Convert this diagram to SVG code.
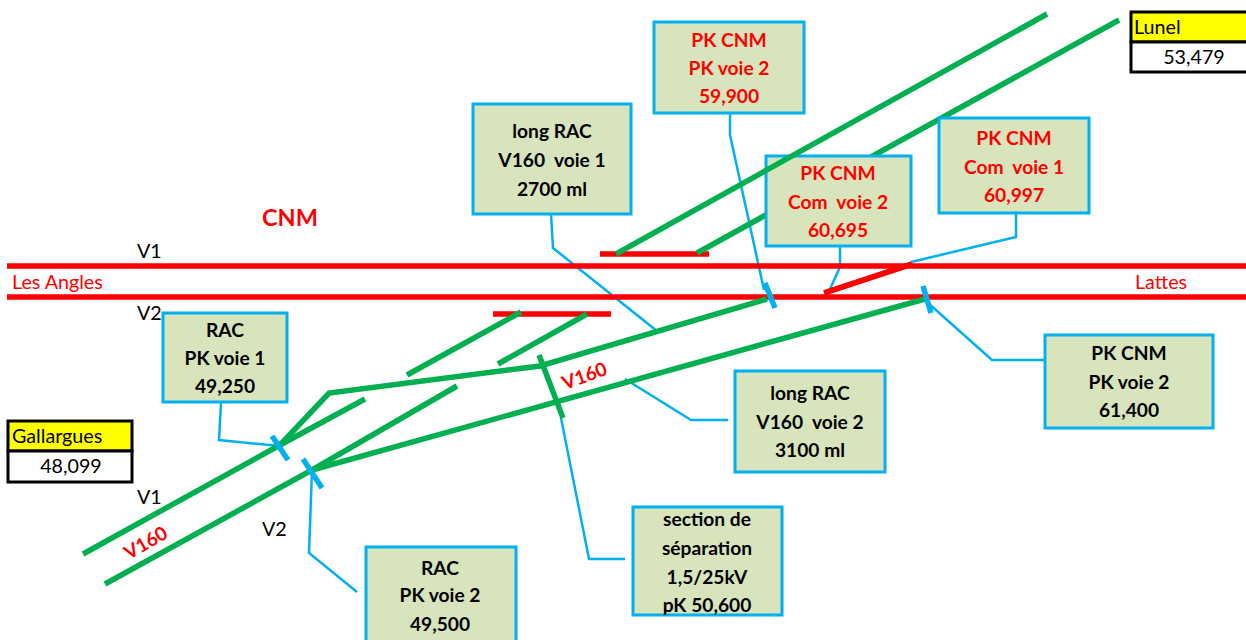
<svg xmlns="http://www.w3.org/2000/svg" width="1246" height="640" viewBox="0 0 1246 640">
<style>
text{font-family:Lato,Carlito,"Open Sans",sans-serif;font-size:19.7px;fill:#000;white-space:pre}
.b{font-weight:700;font-size:19.2px;text-anchor:middle}
.r{fill:#f00}
.v{font-size:19px;text-anchor:start}
.track{fill:none;stroke:#00b050;stroke-width:5.5}
.rail{fill:none;stroke:#f00;stroke-width:5.5}
.lead{fill:none;stroke:#00b0f0;stroke-width:2.5}
.tick{fill:none;stroke:#00b0f0;stroke-width:5.5}
.box{fill:#d8e4bc;stroke:#00b0f0;stroke-width:3}
.cell{fill:#fff;stroke:#000;stroke-width:3}
.head{fill:#ff0;stroke:#000;stroke-width:3}
</style>
<rect width="1246" height="640" fill="#fff"/>
<g id="connectors">
<path class="lead" d="M221 403L219 440L280 446"/>
<path class="lead" d="M312 470L309 553L357 592"/>
<path class="lead" d="M551 214L553 248L657 331"/>
<path class="lead" d="M730 113L730 135L764 290"/>
<path class="lead" d="M840 246L840 267L830 289"/>
<path class="lead" d="M1016 214L1016 237L911 262"/>
<path class="lead" d="M1051 360L992 360L928 303"/>
<path class="lead" d="M625 379L691 420L728 420"/>
<path class="lead" d="M561 418L589 559L625 559"/>
<path class="rail" d="M7 266H1246M7 297H1246M600 254H709M493 314H611"/>
<path class="rail" style="stroke-width:6" d="M824 293L912 264"/>
<path class="track" d="M83 554L280 445L365 399"/>
<path class="track" d="M105 584L312 470L457 386"/>
<path class="track" d="M312 470L925 299"/>
<path class="track" d="M280 445L329 393L540 366L767 299"/>
<path class="track" d="M407 375L521 312M498 364L587 314"/>
<path class="track" d="M539 355L563 418"/>
<path class="track" d="M697 253L1119 20"/>
<path class="tick" d="M272 436L288 460M303 459L322 488M765 283L775 308M923 286L931 313"/>
</g>
<g id="node-rac-v1"><rect class="box" x="163" y="313" width="124" height="89"/><text class="b" x="225" y="337">RAC</text><text class="b" x="225" y="365">PK voie 1</text><text class="b" x="225" y="393">49,250</text></g>
<g id="node-rac-v2"><rect class="box" x="366" y="547" width="150" height="100"/><text class="b" x="440" y="575">RAC</text><text class="b" x="440" y="602">PK voie 2</text><text class="b" x="440" y="631">49,500</text></g>
<g id="node-long-v1"><rect class="box" x="473" y="104" width="158" height="110"/><text class="b" x="552" y="138">long RAC</text><text class="b" x="552" y="167">V160  voie 1</text><text class="b" x="552" y="196">2700 ml</text></g>
<g id="node-pk-59900"><rect class="box" x="654" y="22" width="150" height="91"/><text class="b r" x="729" y="47">PK CNM</text><text class="b r" x="729" y="75">PK voie 2</text><text class="b r" x="729" y="103">59,900</text></g>
<g id="node-pk-60695"><rect class="box" x="766" y="156" width="145" height="90"/><text class="b r" x="838" y="180">PK CNM</text><text class="b r" x="838" y="209">Com  voie 2</text><text class="b r" x="838" y="237">60,695</text></g>
<g id="node-pk-60997"><rect class="box" x="939" y="118" width="150" height="95"/><text class="b r" x="1014" y="145">PK CNM</text><text class="b r" x="1014" y="174">Com  voie 1</text><text class="b r" x="1014" y="202">60,997</text></g>
<g id="node-pk-61400"><rect class="box" x="1045" y="335" width="168" height="93"/><text class="b" x="1129" y="360">PK CNM</text><text class="b" x="1129" y="389">PK voie 2</text><text class="b" x="1129" y="417">61,400</text></g>
<g id="node-long-v2"><rect class="box" x="735" y="371" width="150" height="101"/><text class="b" x="810" y="400">long RAC</text><text class="b" x="810" y="429">V160  voie 2</text><text class="b" x="810" y="457">3100 ml</text></g>
<g id="node-section"><rect class="box" x="633" y="507" width="149" height="108"/><text class="b" x="707" y="526">section de</text><text class="b" x="707" y="555">séparation</text><text class="b" x="707" y="584">1,5/25kV</text><text class="b" x="707" y="612">pK 50,600</text></g>
<path class="track" d="M616 254L1047 14"/>
<g id="node-gallargues"><rect class="head" x="8" y="421" width="124" height="30"/><rect class="cell" x="8" y="451" width="124" height="31"/><text x="12" y="443">Gallargues</text><text x="71" y="473" text-anchor="middle">48,099</text></g>
<g id="node-lunel"><rect class="head" x="1131" y="12" width="120" height="30"/><rect class="cell" x="1131" y="42" width="120" height="30"/><text x="1134" y="34">Lunel</text><text x="1194" y="64" text-anchor="middle">53,479</text></g>
<text class="b r" x="290" y="226" style="font-size:23.5px">CNM</text>
<text x="137" y="258">V1</text>
<text x="137" y="320">V2</text>
<text x="137" y="504">V1</text>
<text x="262" y="536">V2</text>
<text class="r" x="12" y="289">Les Angles</text>
<text class="r" x="1135" y="289">Lattes</text>
<text class="b r v" transform="translate(129 560) rotate(-30)">V160</text>
<text class="b r v" transform="translate(565 390) rotate(-20)">V160</text>
</svg>
